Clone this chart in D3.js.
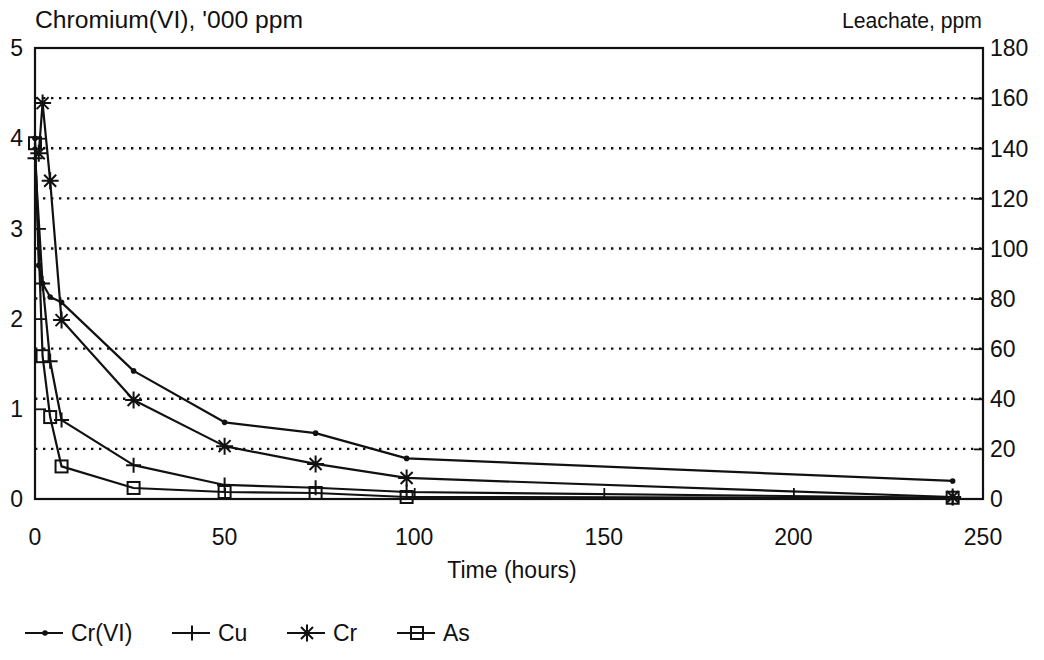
<!DOCTYPE html>
<html>
<head>
<meta charset="utf-8">
<script src="https://cdn.jsdelivr.net/npm/d3@7"></script>
<style>
  html, body { margin: 0; padding: 0; background: #fff; }
  svg { display: block; }
  text { font-family: "Liberation Sans", Arial, Helvetica, sans-serif; fill: #111; }
</style>
</head>
<body>
<svg id="chart" width="1044" height="660"></svg>
<script>
// Sampling times (hours)
const timeCrVI = [0, 1, 2, 4, 7, 26, 50, 74, 98, 242];
const timeCu   = [0, 2, 4, 7, 26, 50, 74, 98, 242];
const timeCr   = [1, 2, 4, 7, 26, 50, 74, 98, 242];
const timeAs   = [0, 2, 4, 7, 26, 50, 74, 98, 242];

// Chromium(VI) in '000 ppm (left axis)
const valCrVI = [4.0, 2.59, 2.39, 2.24, 2.18, 1.42, 0.85, 0.73, 0.45, 0.20];
// Leachate concentrations in ppm (right axis)
const valCu = [136, 86, 55, 31.5, 13.5, 5.6, 4.5, 2.8, 0.5];
const valCr = [138, 158, 127, 71.4, 39.5, 21.1, 14, 8.4, 0.8];
const valAs = [142, 57, 32.7, 13, 4.4, 2.8, 2.4, 0.8, 0.5];

const xTicks = [0, 50, 100, 150, 200, 250];
const leftTicks = [0, 1, 2, 3, 4, 5];
const rightTicks = [0, 20, 40, 60, 80, 100, 120, 140, 160, 180];

const seriesNames = ["Cr(VI)", "Cu", "Cr", "As"];

const svg = d3.select("#chart");
const L = 35, R = 983, T = 48, B = 499;
const FS = 23;

const x = d3.scaleLinear().domain([0, 250]).range([L, R]);
const yL = d3.scaleLinear().domain([0, 5]).range([B, T]);
const yR = d3.scaleLinear().domain([0, 180]).range([B, T]);

// dotted grid at right-axis ticks
svg.append("g").selectAll("line")
  .data(rightTicks.filter(d => d > 0 && d < 180))
  .join("line")
  .attr("x1", L).attr("x2", R)
  .attr("y1", d => yR(d)).attr("y2", d => yR(d))
  .attr("stroke", "#111").attr("stroke-width", 2.4)
  .attr("stroke-dasharray", "2.4,5.6").attr("stroke-linecap", "butt");

// axes (ticks drawn inward)
const axL = svg.append("g").attr("transform", `translate(${L},0)`)
  .call(d3.axisRight(yL).tickValues(leftTicks.slice(1, -1)).tickSize(11).tickFormat(""));
const axR = svg.append("g").attr("transform", `translate(${R},0)`)
  .call(d3.axisLeft(yR).tickValues(rightTicks.slice(1, -1)).tickSize(9).tickFormat(""));
const axB = svg.append("g").attr("transform", `translate(0,${B})`)
  .call(d3.axisTop(x).tickValues(xTicks.slice(1, -1)).tickSize(11).tickFormat(""));
[axL, axR, axB].forEach(g => {
  g.select(".domain").remove();
  g.selectAll(".tick line").attr("stroke", "#111").attr("stroke-width", 1.8);
});

// tick labels
svg.append("g").selectAll("text").data(leftTicks).join("text")
  .attr("x", 23).attr("y", d => yL(d)).attr("dy", "0.36em")
  .attr("text-anchor", "end").attr("font-size", FS).text(d => d);
svg.append("g").selectAll("text").data(rightTicks).join("text")
  .attr("x", 990).attr("y", d => yR(d)).attr("dy", "0.36em")
  .attr("text-anchor", "start").attr("font-size", FS).text(d => d);
svg.append("g").selectAll("text").data(xTicks).join("text")
  .attr("x", d => x(d)).attr("y", 545)
  .attr("text-anchor", "middle").attr("font-size", FS).text(d => d);

svg.append("text").attr("x", 35).attr("y", 28).attr("font-size", FS)
  .attr("textLength", 268).attr("lengthAdjust", "spacingAndGlyphs")
  .text("Chromium(VI), '000 ppm");
svg.append("text").attr("x", 982).attr("y", 28).attr("font-size", 22)
  .attr("text-anchor", "end")
  .attr("textLength", 140).attr("lengthAdjust", "spacingAndGlyphs")
  .text("Leachate, ppm");
svg.append("text").attr("x", 512).attr("y", 578).attr("font-size", FS)
  .attr("text-anchor", "middle").text("Time (hours)");

// marker drawing helpers
function drawMarker(g, type, cx, cy) {
  if (type === "dot") {
    g.append("circle").attr("cx", cx).attr("cy", cy).attr("r", 2.8).attr("fill", "#111");
  } else if (type === "plus") {
    const s = 7.5;
    g.append("path").attr("d", `M${cx - s},${cy}H${cx + s}M${cx},${cy - s}V${cy + s}`)
      .attr("stroke", "#111").attr("stroke-width", 2).attr("fill", "none");
  } else if (type === "star") {
    const s = 8.5, d = 6;
    g.append("path")
      .attr("d", `M${cx - s},${cy}H${cx + s}M${cx},${cy - s}V${cy + s}` +
                 `M${cx - d},${cy - d}L${cx + d},${cy + d}M${cx - d},${cy + d}L${cx + d},${cy - d}`)
      .attr("stroke", "#111").attr("stroke-width", 2).attr("fill", "none");
  } else if (type === "square") {
    const s = 6;
    g.append("rect").attr("x", cx - s).attr("y", cy - s).attr("width", 2 * s).attr("height", 2 * s)
      .attr("stroke", "#111").attr("stroke-width", 2).attr("fill", "none");
  }
}

const series = [
  { name: seriesNames[0], t: timeCrVI, v: valCrVI, y: yL, marker: "dot" },
  { name: seriesNames[1], t: timeCu, v: valCu, y: yR, marker: "plus" },
  { name: seriesNames[2], t: timeCr, v: valCr, y: yR, marker: "star" },
  { name: seriesNames[3], t: timeAs, v: valAs, y: yR, marker: "square" }
];

const plot = svg.append("g");
series.forEach(s => {
  const pts = s.t.map((t, i) => [t, s.v[i]]);
  const line = d3.line().x(d => x(d[0])).y(d => s.y(d[1]));
  plot.append("path").datum(pts).attr("d", line)
    .attr("fill", "none").attr("stroke", "#111").attr("stroke-width", 2.2)
    .attr("stroke-linejoin", "round");
  const mg = plot.append("g");
  pts.forEach(p => drawMarker(mg, s.marker, x(p[0]), s.y(p[1])));
});

// frame
svg.append("rect").attr("x", L).attr("y", T).attr("width", R - L).attr("height", B - T)
  .attr("fill", "none").attr("stroke", "#111").attr("stroke-width", 2.2);

// legend
const legendX = [25, 172, 287, 397];
const legend = svg.append("g");
series.forEach((s, i) => {
  const lx = legendX[i], ly = 633;
  legend.append("line").attr("x1", lx).attr("x2", lx + 38).attr("y1", ly).attr("y2", ly)
    .attr("stroke", "#111").attr("stroke-width", 2);
  drawMarker(legend, s.marker, lx + 20, ly);
  legend.append("text").attr("x", lx + 46).attr("y", ly).attr("dy", "0.36em")
    .attr("font-size", FS).text(s.name);
});
</script>
</body>
</html>
